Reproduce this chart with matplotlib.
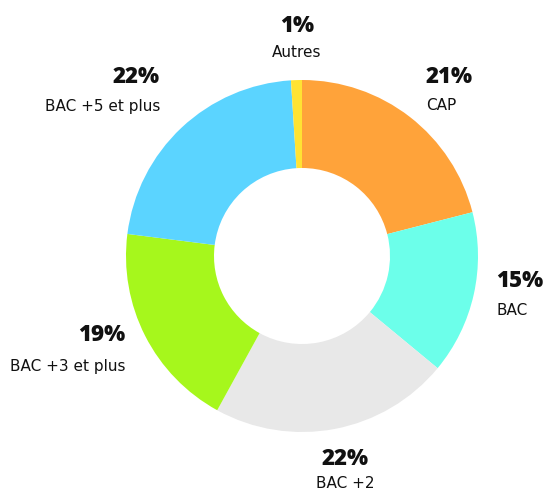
import matplotlib
matplotlib.use("Agg")
import matplotlib.pyplot as plt

categories = ["CAP", "BAC", "BAC +2", "BAC +3 et plus", "BAC +5 et plus", "Autres"]
values = [21, 15, 22, 19, 22, 1]
colors = ["#FFA33A", "#6CFFEA", "#E8E8E8", "#A6F71C", "#5BD4FF", "#FFE333"]

W, H = 543, 490
fig = plt.figure(figsize=(W / 100, H / 100), dpi=100)
ax = fig.add_axes([0, 0, 1, 1])

cx, cy, R = 302, H - 256, 176
ax.pie(values, colors=colors, startangle=90, counterclock=False,
       center=(cx, cy), radius=R,
       wedgeprops=dict(width=R * 0.5, linewidth=0))
ax.set_xlim(0, W)
ax.set_ylim(0, H)
ax.set_aspect("equal")
ax.axis("off")

# label anchors: x, baseline of percent, baseline of category (pixels from top), alignment
label_pos = [
    (426, 83, 110, "left"),
    (496, 287, 315, "left"),
    (345, 465, 488, "center"),
    (125, 341, 371, "right"),
    (160, 83, 111, "right"),
    (297, 32, 57, "center"),
]
for cat, v, (x, yp, yc, ha) in zip(categories, values, label_pos):
    ax.text(x, H - yp, f"{v}%", ha=ha, va="baseline", fontsize=16,
            fontweight=800, family=["Open Sans", "DejaVu Sans"], color="#111111")
    ax.text(x, H - yc, cat, ha=ha, va="baseline", fontsize=11,
            family=["DejaVu Sans"], color="#111111")

fig.savefig("out.png", dpi=100)
